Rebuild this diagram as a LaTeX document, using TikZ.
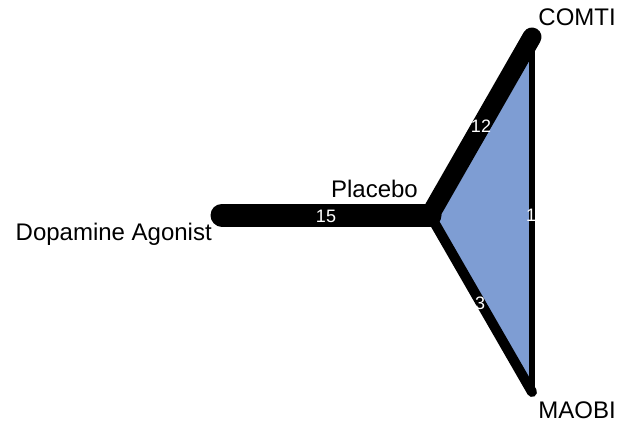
\documentclass[tikz,border=0pt]{standalone}
\usepackage{fontspec}
\setmainfont{Liberation Sans}
\definecolor{netblue}{RGB}{126,157,211}
\begin{document}
\begin{tikzpicture}[x=1pt, y=-1pt,
    treat/.style={font=\fontsize{24}{29}\selectfont, inner sep=0pt},
    count/.style={font=\fontsize{18}{21}\selectfont, text=white, inner sep=0pt},
    edge/.style={line cap=round, line join=round}]
    \useasboundingbox (0,0) rectangle (620,423);

    \coordinate (dop) at (222,215);
    \coordinate (pla) at (430,215);
    \coordinate (com) at (532,37);
    \coordinate (mao) at (532,392);

    \fill[netblue] (pla) -- (com) -- (mao) -- cycle;

    \draw[edge, line width=23pt] (dop) -- (pla);
    \draw[edge, line width=19pt] (pla) -- (com);
    \draw[edge, line width=10pt] (pla) -- (mao);
    \draw[edge, line width=6.5pt] (com) -- (mao);

    \node[count] (n15) at (326,216) {15};
    \node[count] (n12) at (481,126) {12};
    \node[count] (n3)  at (480,303) {3};
    \node[count] (n1)  at (531,215) {1};

    \node[treat, anchor=base east] (tdop) at (212,240) {Dopamine Agonist};
    \node[treat, anchor=base east] (tpla) at (418,197) {Placebo};
    \node[treat, anchor=base east] (tcom) at (616,25)  {COMTI};
    \node[treat, anchor=base east] (tmao) at (616,418) {MAOBI};
\end{tikzpicture}
\end{document}
